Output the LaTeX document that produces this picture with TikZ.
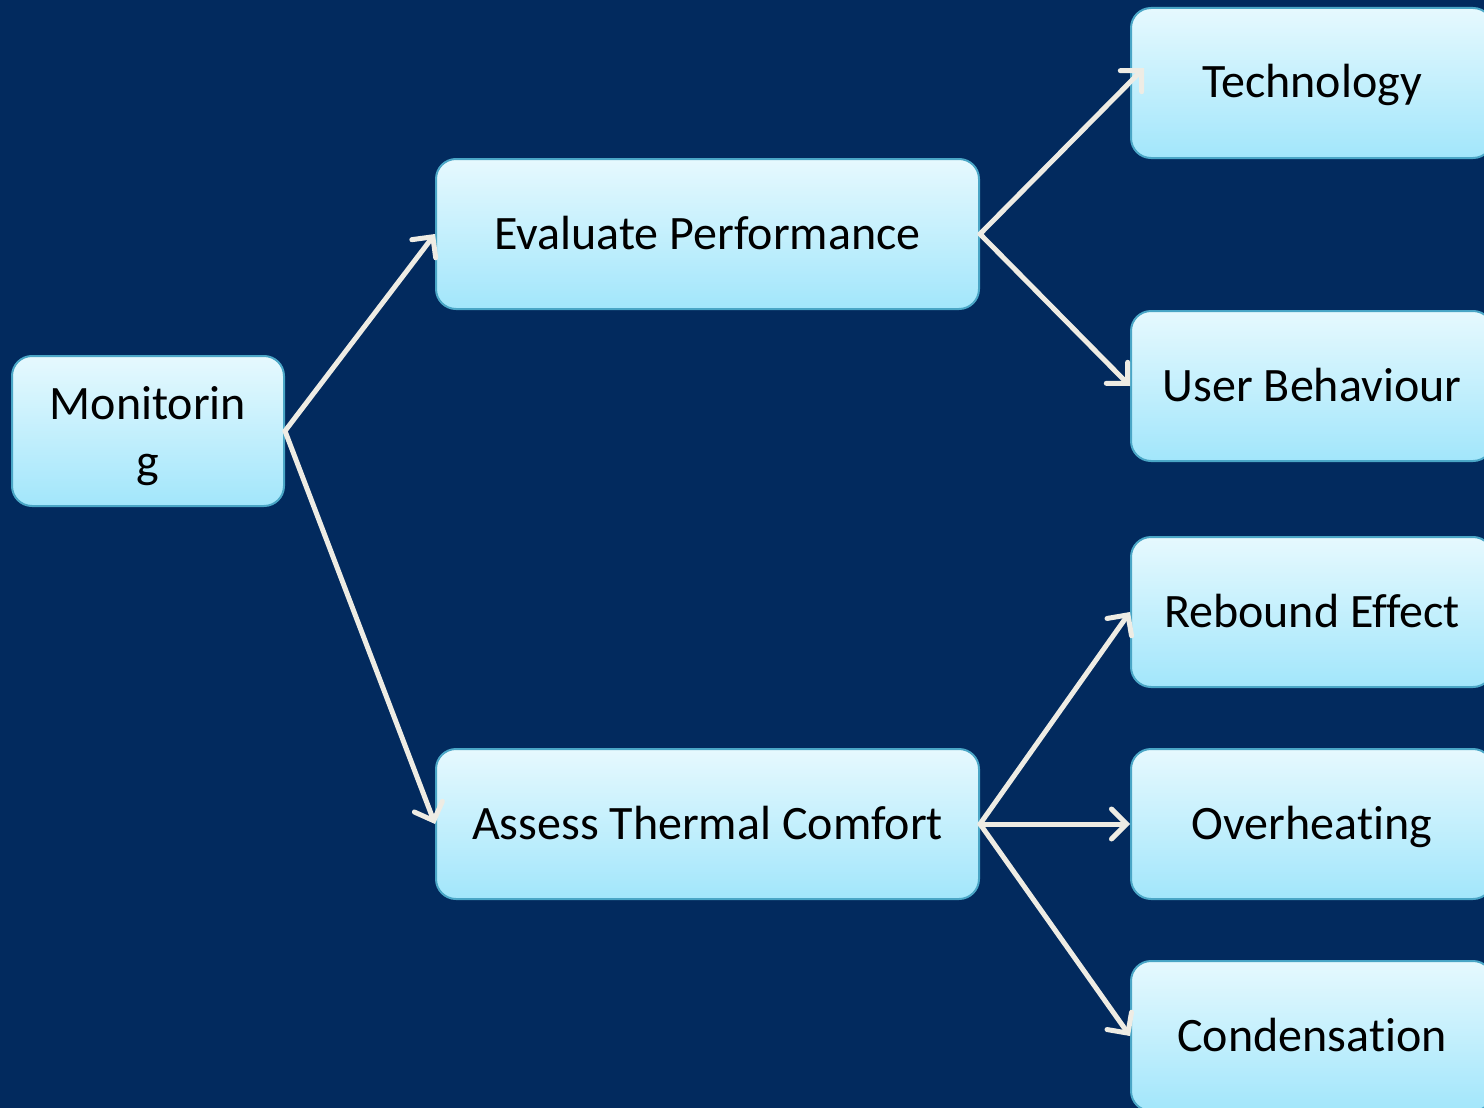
\documentclass[tikz,border=0pt]{standalone}
\usepackage{fontspec}
\setmainfont[Ligatures=NoCommon,RawFeature={-liga;-dlig}]{Carlito}
\usetikzlibrary{arrows.meta,calc}
\definecolor{bg}{HTML}{022A5E}
\definecolor{boxtop}{HTML}{E6F9FE}
\definecolor{boxbot}{HTML}{A2E6FB}
\definecolor{boxline}{HTML}{4AA6C6}
\definecolor{arrowc}{HTML}{EEECE4}
\begin{document}
\begin{tikzpicture}[x=1pt,y=-1pt,
  box/.style={draw=boxline, line width=2pt, rounded corners=20pt,
    top color=boxtop, bottom color=boxbot, align=center,
    font=\fontsize{48}{62}\selectfont, inner sep=0pt, minimum height=150pt},
  oneline/.style={text height=40pt, text depth=10pt},
  root/.style={box, minimum width=272pt},
  mid/.style={box, oneline, minimum width=543pt},
  leaf/.style={box, oneline, minimum width=362pt},
  link/.style={draw=arrowc, line width=5pt, line cap=round,
    -{Straight Barb[length=15pt,width=30pt,line cap=round]}}]
\fill[bg] (0,0) rectangle (1484,1108);
\useasboundingbox (0,0) rectangle (1484,1108);
\clip (0,0) rectangle (1484,1108);

% boxes
\node[root] (mon) at (148,431) {\raisebox{-11pt}[0pt][0pt]{\begin{tabular}{@{}c@{}}Monitorin\\[-4pt]g\end{tabular}}};
\node[mid] (eval) at (707.5,234) {Evaluate Performance};
\node[mid] (assess) at (707.5,824) {Assess Thermal Comfort};
\node[leaf] (tech) at (1312,83) {Technology};
\node[leaf] (user) at (1312,386) {User Behaviour};
\node[leaf] (reb) at (1312,612) {Rebound Effect};
\node[leaf] (over) at (1312,824) {Overheating};
\node[leaf] (cond) at (1312,1036) {Condensation};

% connectors
\draw[link] (mon.east) -- (eval.west);
\draw[link] (mon.east) -- (assess.west);
\draw[link] (eval.east) -- ($(tech.west)+(14,-15)$);
\draw[link] (eval.east) -- (user.west);
\draw[link] (assess.east) -- (reb.west);
\draw[link] (assess.east) -- (over.west);
\draw[link] (assess.east) -- (cond.west);
\end{tikzpicture}
\end{document}
